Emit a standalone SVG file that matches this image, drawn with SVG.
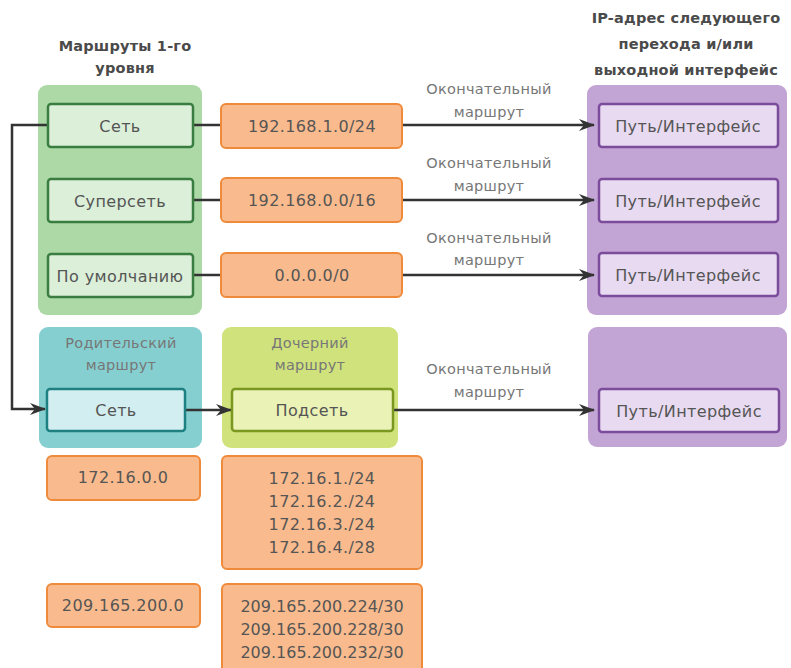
<svg xmlns="http://www.w3.org/2000/svg" width="791" height="668" viewBox="0 0 791 668">
  <defs>
    <style>
      text { font-family: "DejaVu Sans", "Liberation Sans", sans-serif; font-size: 16px; letter-spacing: 0.4px; fill: #555; text-anchor: middle; dominant-baseline: central; }
      .hdr { font-weight: bold; fill: #4a4a4a; font-size: 14.5px; letter-spacing: 0.2px; }
      .lbl { font-size: 14.5px; fill: #777; letter-spacing: 0.3px; }
      .cont-green { fill: #acd9a6; }
      .cont-purple { fill: #c3a5d5; }
      .cont-teal { fill: #86cfd0; }
      .cont-lime { fill: #cfe27c; }
      .box-green { fill: #dcefd9; stroke: #3a7d40; stroke-width: 2.5; }
      .box-purple { fill: #e8daf0; stroke: #7c4c9c; stroke-width: 2.5; }
      .box-teal { fill: #d3eef0; stroke: #1e8080; stroke-width: 2.5; }
      .box-lime { fill: #eaf2b6; stroke: #7a9820; stroke-width: 2.5; }
      .box-orange { fill: #f9bb8d; stroke: #ef8a3a; stroke-width: 2; }
      .wire { fill: none; stroke: #333; stroke-width: 2.5; }
    </style>
    <marker id="arrow" viewBox="0 0 16 12" markerWidth="16" markerHeight="12" refX="15" refY="6" orient="auto" markerUnits="userSpaceOnUse">
      <path d="M0,0 L16,6 L0,12 L5,6 z" fill="#333"/>
    </marker>
  </defs>

  <!-- column headings -->
  <g id="heading-level1">
    <text class="hdr" x="125" y="46">Маршруты 1-го</text>
    <text class="hdr" x="125" y="68">уровня</text>
  </g>
  <g id="heading-nexthop">
    <text class="hdr" x="686" y="18">IP-адрес следующего</text>
    <text class="hdr" x="686" y="44">перехода и/или</text>
    <text class="hdr" x="686" y="70">выходной интерфейс</text>
  </g>

  <!-- containers -->
  <g id="level1-container"><rect class="cont-green" x="38" y="85" width="164" height="230" rx="9"/></g>
  <g id="nexthop-container"><rect class="cont-purple" x="587" y="85" width="200" height="230" rx="9"/></g>
  <g id="parent-container">
    <rect class="cont-teal" x="39" y="327" width="163" height="121" rx="9"/>
    <text class="lbl" x="121" y="343">Родительский</text>
    <text class="lbl" x="121" y="365">маршрут</text>
  </g>
  <g id="child-container">
    <rect class="cont-lime" x="222" y="327" width="176" height="121" rx="9"/>
    <text class="lbl" x="310" y="343">Дочерний</text>
    <text class="lbl" x="310" y="365">маршрут</text>
  </g>
  <g id="nexthop-container-2"><rect class="cont-purple" x="588" y="327" width="199" height="120" rx="9"/></g>

  <!-- connectors -->
  <g id="connectors">
    <path class="wire" d="M48,125 H12 V409 H45" marker-end="url(#arrow)"/>
    <line class="wire" x1="193" y1="125" x2="221" y2="125"/>
    <line class="wire" x1="193" y1="200" x2="221" y2="200"/>
    <line class="wire" x1="193" y1="275" x2="221" y2="275"/>
    <line class="wire" x1="402" y1="125" x2="594" y2="125" marker-end="url(#arrow)"/>
    <line class="wire" x1="402" y1="200" x2="594" y2="200" marker-end="url(#arrow)"/>
    <line class="wire" x1="402" y1="275" x2="594" y2="275" marker-end="url(#arrow)"/>
    <line class="wire" x1="185" y1="410" x2="231" y2="410" marker-end="url(#arrow)"/>
    <line class="wire" x1="393" y1="410" x2="594" y2="410" marker-end="url(#arrow)"/>
    <text class="lbl" x="489" y="89">Окончательный</text>
    <text class="lbl" x="489" y="112">маршрут</text>
    <text class="lbl" x="489" y="163">Окончательный</text>
    <text class="lbl" x="489" y="186">маршрут</text>
    <text class="lbl" x="489" y="238">Окончательный</text>
    <text class="lbl" x="489" y="260">маршрут</text>
    <text class="lbl" x="489" y="369">Окончательный</text>
    <text class="lbl" x="489" y="392">маршрут</text>
  </g>

  <!-- level 1 routes -->
  <g id="net"><rect class="box-green" x="48" y="104" width="145" height="43" rx="3"/><text x="120" y="126">Сеть</text></g>
  <g id="supernet"><rect class="box-green" x="48" y="179" width="145" height="43" rx="3"/><text x="120" y="201">Суперсеть</text></g>
  <g id="default"><rect class="box-green" x="48" y="254" width="145" height="43" rx="3"/><text x="120" y="276">По умолчанию</text></g>

  <!-- example prefixes -->
  <g id="prefix-net"><rect class="box-orange" x="221" y="104" width="181" height="44" rx="5"/><text x="312" y="126">192.168.1.0/24</text></g>
  <g id="prefix-supernet"><rect class="box-orange" x="221" y="178" width="181" height="44" rx="5"/><text x="312" y="200">192.168.0.0/16</text></g>
  <g id="prefix-default"><rect class="box-orange" x="221" y="253" width="181" height="44" rx="5"/><text x="312" y="275">0.0.0.0/0</text></g>

  <!-- exit paths -->
  <g id="path1"><rect class="box-purple" x="599" y="104" width="179" height="43" rx="3"/><text x="688" y="126">Путь/Интерфейс</text></g>
  <g id="path2"><rect class="box-purple" x="599" y="179" width="179" height="43" rx="3"/><text x="688" y="201">Путь/Интерфейс</text></g>
  <g id="path3"><rect class="box-purple" x="599" y="253" width="179" height="43" rx="3"/><text x="688" y="275">Путь/Интерфейс</text></g>
  <g id="path4"><rect class="box-purple" x="599" y="389" width="180" height="43" rx="3"/><text x="689" y="411">Путь/Интерфейс</text></g>

  <!-- parent / child routes -->
  <g id="parent-net"><rect class="box-teal" x="47" y="389" width="138" height="42" rx="3"/><text x="116" y="410">Сеть</text></g>
  <g id="child-subnet"><rect class="box-lime" x="232" y="389" width="161" height="42" rx="3"/><text x="312" y="410">Подсеть</text></g>

  <!-- parent / child examples -->
  <g id="parent-172"><rect class="box-orange" x="47" y="456" width="153" height="44" rx="5"/><text x="123" y="477">172.16.0.0</text></g>
  <g id="child-172">
    <rect class="box-orange" x="222" y="456" width="200" height="113" rx="5"/>
    <text x="322" y="478">172.16.1./24</text>
    <text x="322" y="501">172.16.2./24</text>
    <text x="322" y="524">172.16.3./24</text>
    <text x="322" y="547">172.16.4./28</text>
  </g>
  <g id="parent-209"><rect class="box-orange" x="47" y="584" width="153" height="43" rx="5"/><text x="123" y="605">209.165.200.0</text></g>
  <g id="child-209">
    <rect class="box-orange" x="222" y="584" width="200" height="100" rx="5"/>
    <text x="322" y="606" style="letter-spacing:0">209.165.200.224/30</text>
    <text x="322" y="629" style="letter-spacing:0">209.165.200.228/30</text>
    <text x="322" y="652" style="letter-spacing:0">209.165.200.232/30</text>
  </g>
</svg>
